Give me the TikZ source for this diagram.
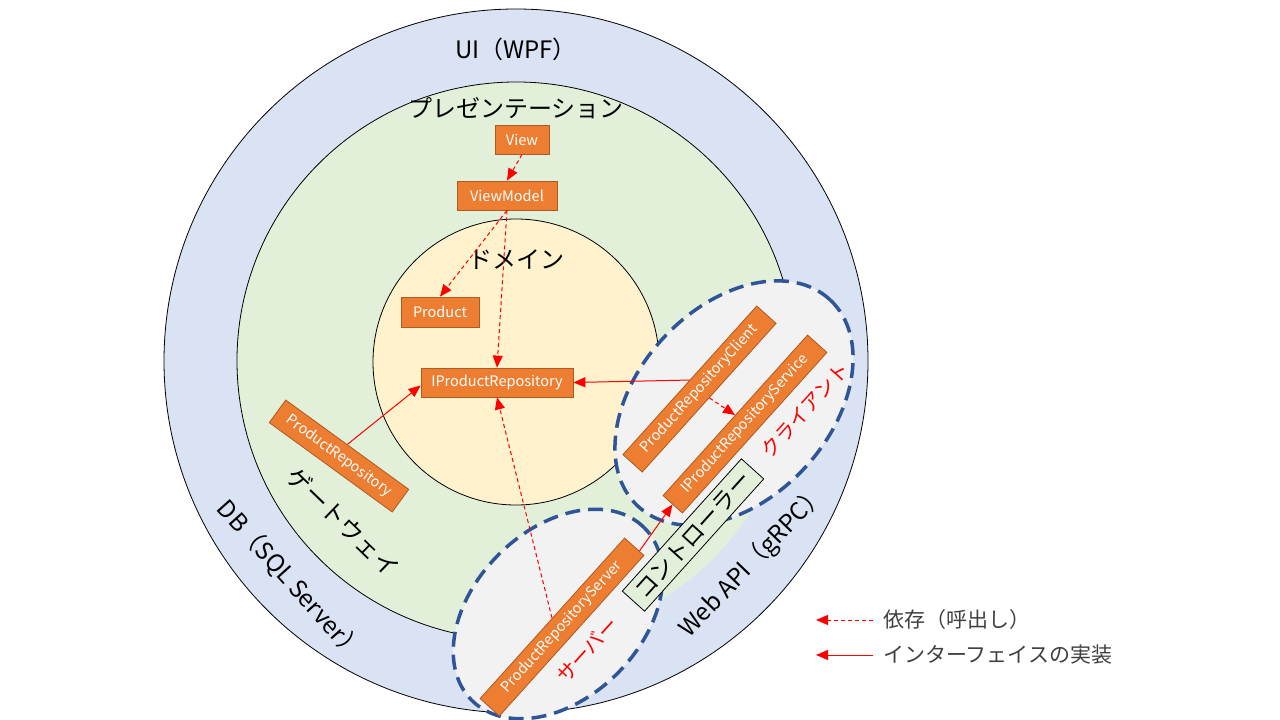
\documentclass[tikz,border=0pt]{standalone}
\usepackage{fontspec}
\setmainfont{Noto Sans CJK JP}
\usetikzlibrary{arrows.meta,calc}
\definecolor{ringblue}{HTML}{DAE3F3}
\definecolor{ringgreen}{HTML}{E2F0D9}
\definecolor{ringyellow}{HTML}{FFF2CC}
\definecolor{ellgray}{HTML}{F2F2F2}
\definecolor{dashblue}{HTML}{2F5597}
\definecolor{boxorange}{HTML}{ED7D31}
\definecolor{boxedge}{HTML}{AE5A21}
\definecolor{legendgray}{HTML}{404040}
\begin{document}
\begin{tikzpicture}[x=1pt,y=-1pt,
  obox/.style={draw=boxedge, fill=boxorange, text=white, font=\fontsize{14.5}{16}\selectfont, inner sep=0pt, line width=0.8pt},
  biglabel/.style={font=\fontsize{24}{28}\selectfont, text=black, inner sep=0pt},
  redlabel/.style={font=\fontsize{20}{24}\selectfont, text=red, inner sep=0pt},
  legtext/.style={font=\fontsize{21}{24}\selectfont, text=legendgray, anchor=west, inner sep=0pt},
  depend/.style={red, line width=1pt, dash pattern=on 4pt off 3pt, -{Triangle[length=12pt,width=10pt]}},
  implem/.style={red, line width=1pt, -{Triangle[length=12pt,width=10pt]}},
  zone/.style={fill=ellgray, draw=dashblue, line width=3.5pt, dash pattern=on 15pt off 8pt},
  ctrlbox/.style={draw=black, fill=ringgreen, line width=0.8pt, inner sep=0pt, font=\fontsize{23}{26}\selectfont}
]
\useasboundingbox (0,0) rectangle (1280,720);
\fill[white] (0,0) rectangle (1280,720);
% rings
\draw[fill=ringblue, line width=0.8pt] (516,361) circle [radius=352pt];
\fill[ringgreen] (516,361) circle [radius=279pt];
\draw[line width=0.8pt] (516,361) ++(5:279pt) arc [start angle=5, end angle=265, radius=279pt];
\draw[fill=ringyellow, line width=0.8pt] (516,362) circle [radius=143pt];
% zones
\path[zone, rotate around={45:(558,614)}] (558,614) ellipse [x radius=122pt, y radius=84pt];
\path[zone, rotate around={47:(734,403)}] (734,403) ellipse [x radius=141pt, y radius=96pt];
% controller
\node[ctrlbox, rotate=48, minimum width=178pt, minimum height=30pt] (ctrl) at (693,535) {コントローラー};
% boxes
\node[obox, minimum width=54pt, minimum height=29pt] (view) at (522,139.5) {View};
\node[obox, minimum width=100pt, minimum height=29pt] (vm) at (507,195.5) {ViewModel};
\node[obox, minimum width=78pt, minimum height=30pt] (product) at (440,312) {Product};
\node[obox, minimum width=152pt, minimum height=29pt] (irepo) at (497,382.5) {IProductRepository};
\node[obox, rotate=-36, minimum width=152pt, minimum height=28pt] (prepo) at (339,456) {ProductRepository};
\node[obox, rotate=48, minimum width=200pt, minimum height=26pt] (client) at (699.5,389) {ProductRepositoryClient};
\node[obox, rotate=48, minimum width=216pt, minimum height=26pt] (service) at (745,424) {IProductRepositoryService};
\node[obox, rotate=48, minimum width=216pt, minimum height=26pt] (server) at (562,627) {ProductRepositoryServer};
% labels
\node[biglabel] (ui) at (516,49) {UI（WPF）};
\node[biglabel] (pres) at (516,108) {プレゼンテーション};
\node[biglabel] (dom) at (516,260) {ドメイン};
\node[biglabel, rotate=-44] (gw) at (343,522) {ゲートウェイ};
\node[biglabel, rotate=-48] (db) at (290,580) {DB（SQL Server）};
\node[biglabel, rotate=46] (web) at (753,562) {Web API（gRPC）};
\node[redlabel, rotate=48] (cl) at (805,410) {クライアント};
\node[redlabel, rotate=48] (sv) at (587,650) {サーバー};
% connectors
\draw[depend] (view.south) -- (vm.north);
\draw[depend] (vm.south) -- (product.north);
\draw[depend] (vm.south) -- (irepo.north);
\draw[implem] (prepo.north) -- ($(irepo.west)!0.2!(irepo.south west)$);
\draw[implem] (client.north) -- (irepo.east);
\draw[depend] (client.south) -- (service.north);
\draw[depend] (server.north) -- (irepo.south);
\draw[implem] ($(server.east)!0.5!(server.south east)$) -- (service.west);
% legend
\node[legtext] (leg1) at (883,620) {依存（呼出し）};
\node[legtext] (leg2) at (883,655) {インターフェイスの実装};
\coordinate (leg1a) at (873,620);
\coordinate (leg1b) at (816,620);
\coordinate (leg2a) at (873,655);
\coordinate (leg2b) at (816,655);
\draw[depend] (leg1a) -- (leg1b);
\draw[implem] (leg2a) -- (leg2b);
\end{tikzpicture}
\end{document}
